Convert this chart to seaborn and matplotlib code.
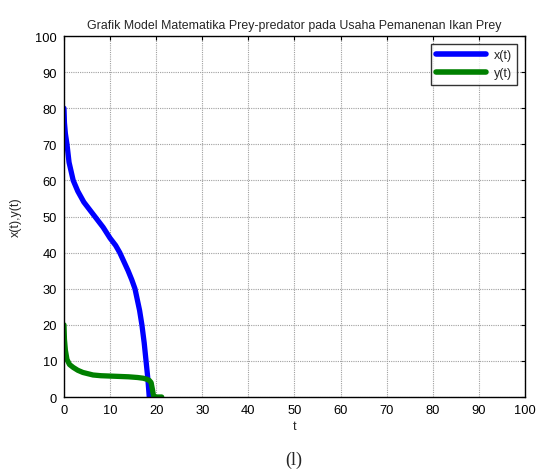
import numpy as np
import pandas as pd
import matplotlib
matplotlib.use("Agg")
import matplotlib.pyplot as plt
import seaborn as sns

# Prey population x(t)
t_prey = [0, 0.1, 0.3, 0.65, 1.1, 2.0, 3.0, 4.3, 5.5, 6.7, 8.5, 10.0, 11.2, 12.1,
          13.0, 13.9, 14.7, 15.4, 15.9, 16.4, 16.9, 17.4, 17.8, 18.2, 18.5]
x_prey = [80, 76, 73, 70, 65, 60, 57, 54, 52, 50, 47, 44, 42, 40,
          37.5, 35, 32.5, 30, 27, 24, 20, 15, 10, 5, 0]

# Predator population y(t)
t_pred = [0, 0.1, 0.3, 0.65, 1.2, 2.0, 3.0, 4.1, 6.3, 8.0, 10.0, 12.0, 14.0, 16.0,
          17.2, 18.0, 18.5, 18.9, 19.2, 19.4, 19.6, 20.5, 21.2]
y_pred = [20, 16, 13, 10.4, 9, 8.2, 7.4, 6.8, 6.1, 5.9, 5.8, 5.7, 5.6, 5.4,
          5.2, 4.9, 4.6, 4.0, 2.0, 0.5, 0, 0, 0]

series_names = ["x(t)", "y(t)"]
series_colors = [(0, 0, 1), (0, 0.5, 0)]

df = pd.concat([
    pd.DataFrame({"t": t_prey, "v": x_prey, "s": series_names[0]}),
    pd.DataFrame({"t": t_pred, "v": y_pred, "s": series_names[1]}),
], ignore_index=True)

sns.set_style("white")
plt.rcParams["font.family"] = ["Liberation Sans", "DejaVu Sans"]

fig = plt.figure(figsize=(5.39, 4.77), dpi=100)
ax = fig.add_axes([0.1187, 0.1656, 0.8553, 0.7568])

sns.lineplot(data=df, x="t", y="v", hue="s", palette=series_colors,
             estimator=None, sort=False, linewidth=3.8, ax=ax)

ax.set_xlim(0, 100)
ax.set_ylim(0, 100)
ax.set_xticks(np.arange(0, 101, 10))
ax.set_yticks(np.arange(0, 101, 10))
ax.tick_params(direction="in", length=3, width=0.8, labelsize=9.3, pad=5,
               top=True, right=True, colors="black")
ax.grid(True, color="#a0a0a0", linestyle=(0, (1, 1)), linewidth=0.8)
for sp in ax.spines.values():
    sp.set_visible(True)
    sp.set_color("black")
    sp.set_linewidth(1.0)

ax.set_title("Grafik Model Matematika Prey-predator pada Usaha Pemanenan Ikan Prey",
             fontsize=8.9, pad=6)
ax.set_xlabel("t", fontsize=9, labelpad=3)
ax.set_ylabel("x(t),y(t)", fontsize=9, labelpad=10)

leg = ax.legend(loc="upper right", fontsize=9, frameon=True, fancybox=False,
                handlelength=4.0, borderpad=0.45, labelspacing=0.5,
                handletextpad=0.6, borderaxespad=0.6)
leg.get_frame().set_edgecolor("black")
leg.get_frame().set_linewidth(1.0)
leg.set_title(None)
for line in leg.get_lines():
    line.set_linewidth(4)

fig.text(0.545, 0.035, "(l)", ha="center", va="center", fontsize=13,
         family=["Liberation Serif", "DejaVu Serif"])

fig.savefig("out.png", dpi=100)
